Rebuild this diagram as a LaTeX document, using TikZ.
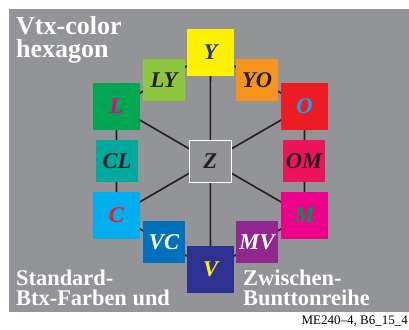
\documentclass[tikz,border=0pt]{standalone}
\usepackage{fontspec}
\setmainfont{Liberation Serif}
\usetikzlibrary{backgrounds}
\definecolor{hexbg}{RGB}{147,148,152}
\definecolor{hexline}{RGB}{35,31,32}
\definecolor{colY}{RGB}{255,242,0}
\definecolor{colLY}{RGB}{141,198,63}
\definecolor{colYO}{RGB}{247,148,29}
\definecolor{colL}{RGB}{0,166,81}
\definecolor{colO}{RGB}{237,28,36}
\definecolor{colCL}{RGB}{0,169,157}
\definecolor{colOM}{RGB}{237,20,91}
\definecolor{colC}{RGB}{0,174,239}
\definecolor{colM}{RGB}{236,0,140}
\definecolor{colVC}{RGB}{0,114,188}
\definecolor{colMV}{RGB}{146,39,143}
\definecolor{colV}{RGB}{46,49,146}
\definecolor{txtM}{RGB}{0,150,80}
\begin{document}
\begin{tikzpicture}[x=1pt,y=-1pt,
    bigbox/.style={minimum size=47pt,inner sep=0pt,text=hexline,
      font=\fontsize{22.5}{22.5}\selectfont\bfseries\itshape},
    smallbox/.style={bigbox,minimum size=42pt},
    spoke/.style={line width=1.6pt,hexline}]
  \useasboundingbox (0,0) rectangle (409,329);
  % corner colours
  \node[bigbox,fill=colY,text=colV] (Y) at (210.5,52.5) {Y};
  \node[bigbox,fill=colL,text=colM] (L) at (116.5,106.5) {L};
  \node[bigbox,fill=colO,text=colC] (O) at (304.5,106.5) {O};
  \node[bigbox,fill=colC,text=colO] (C) at (116.5,215.5) {C};
  \node[bigbox,fill=colM,text=txtM] (M) at (304.5,215.5) {M};
  \node[bigbox,fill=colV,text=colY] (V) at (210.5,269.5) {V};
  % intermediate colours
  \node[smallbox,fill=colLY] (LY) at (164,80) {LY};
  \node[smallbox,fill=colYO] (YO) at (257,80) {YO};
  \node[smallbox,fill=colCL] (CL) at (117,161) {CL};
  \node[smallbox,fill=colOM] (OM) at (304,161) {OM};
  \node[smallbox,fill=colVC,text=white] (VC) at (164,242) {VC};
  \node[smallbox,fill=colMV,text=white] (MV) at (257,242) {MV};
  \node[smallbox,fill=hexbg,draw=white,line width=1pt] (Z) at (210.3,161) {Z};
  % texts
  \node[anchor=north west,inner sep=0pt,align=left,text=white,
    font=\fontsize{26}{22.4}\selectfont\bfseries] (title) at (16,16.7)
    {Vtx-color\\hexagon};
  \node[anchor=north west,inner sep=0pt,align=left,text=white,
    font=\fontsize{22.4}{20}\selectfont\bfseries] (std) at (16,270)
    {Standard-\\Btx-Farben und};
  \node[anchor=north west,inner sep=0pt,align=left,text=white,
    font=\fontsize{22.4}{20}\selectfont\bfseries] (zw) at (243,270)
    {Zwischen-\\Bunttonreihe};
  \node[anchor=base east,inner sep=0pt,font=\fontsize{13}{13}\selectfont]
    (code) at (408,324) {ME240--4, B6\_15\_4};
  \begin{scope}[on background layer]
    \fill[hexbg] (9,9) rectangle (409,312);
    \draw[spoke] (Y.center) -- (L.center) -- (C.center) -- (V.center)
      -- (M.center) -- (O.center) -- (Y.center);
    \foreach \n in {Y,L,C,V,M,O}
      \draw[spoke] (Z.center) -- (\n.center);
  \end{scope}
\end{tikzpicture}
\end{document}
